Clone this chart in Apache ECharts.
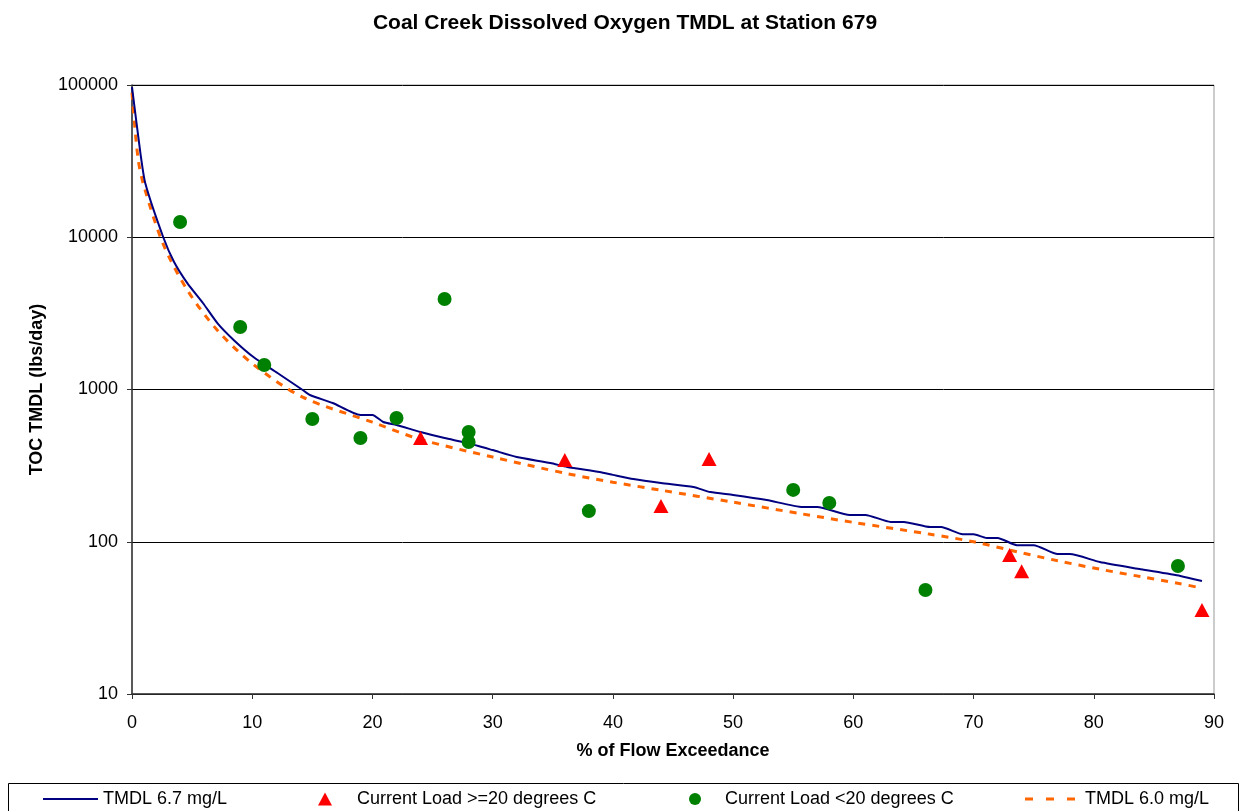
<!DOCTYPE html>
<html>
<head>
<meta charset="utf-8">
<script src="https://cdn.jsdelivr.net/npm/echarts@6/dist/echarts.min.js"></script>
<style>html,body{margin:0;padding:0;background:#fff;}#c{width:1244px;height:811px;}</style>
</head>
<body>
<div id="c"></div>
<script>
// TMDL 6.7 mg/L curve
const tmdl67X = [0, 0.7, 1.1, 2.6, 3.5, 4.6, 5.9, 7.1, 8.5, 10.1, 12.1, 14.2, 14.8, 16.7, 19.0, 20.0, 20.9, 22.0, 24.0, 26.0, 27.9, 30.0, 32.0, 34.8, 36.2, 38.9, 40.0, 41.7, 44.0, 46.7, 48.1, 50.0, 52.8, 55.8, 57.0, 59.7, 61.0, 63.1, 64.2, 66.4, 67.3, 69.1, 70.0, 71.1, 72.0, 73.6, 75.0, 77.0, 78.0, 80.5, 83.9, 87.2, 89.0];
const tmdl67Y = [97000, 35700, 22700, 10000, 6880, 5000, 3700, 2730, 2100, 1635, 1283, 993, 920, 815, 680, 680, 612, 585, 526, 480, 445, 400, 360, 329, 310, 287, 275, 258, 243, 229, 212, 203, 188, 169, 169, 150, 150, 135, 135, 125, 125, 112, 112, 106, 106, 95, 95, 83, 83, 73.6, 66, 59.6, 55.2];
// TMDL 6.0 mg/L curve
const tmdl60X = [0, 0.5, 1.0, 2.6, 4.6, 7.1, 10.1, 14.2, 20.0, 24.0, 30.0, 36.2, 40.0, 44.0, 50.0, 55.8, 60.0, 66.4, 70.0, 73.6, 77.0, 80.5, 83.9, 87.2, 89.0];
const tmdl60Y = [89000, 33000, 21600, 9000, 4500, 2450, 1460, 890, 610, 470, 360, 280, 246, 218, 182, 152, 134, 112, 100, 86, 75, 66, 59, 53, 49.5];
// Current Load >= 20 degrees C
const warmX = [24, 36, 44, 48, 73, 74, 89];
const warmY = [480, 344, 172, 350, 81.8, 64, 35.6];
// Current Load < 20 degrees C
const coolX = [4, 9, 11, 15, 19, 22, 26, 28, 28, 38, 55, 58, 66, 87];
const coolY = [12600, 2574, 1449, 640, 480, 650, 3930, 526, 452, 159, 219, 180, 48.2, 69.3];
const xTicks = [0, 10, 20, 30, 40, 50, 60, 70, 80, 90];

const pair = (xs, ys) => xs.map((x, i) => [x, ys[i]]);
const FONT = '"Liberation Sans", Arial, sans-serif';
const LEG_TEXT = {fontFamily: FONT, fontSize: 18, color: '#000'};

const chart = echarts.init(document.getElementById('c'), null, {renderer: 'canvas'});
chart.setOption({
  animation: false,
  backgroundColor: '#fff',
  title: {
    text: 'Coal Creek Dissolved Oxygen TMDL at Station 679',
    left: 620, top: 8, textAlign: 'center',
    textStyle: {fontFamily: FONT, fontSize: 21, fontWeight: 'bold', color: '#000'}
  },
  grid: {left: 132, right: 30, top: 85, bottom: 117, show: true, borderColor: '#999', borderWidth: 1},
  xAxis: {
    type: 'value', min: xTicks[0], max: xTicks[xTicks.length - 1], interval: 10,
    name: '% of Flow Exceedance', nameLocation: 'middle', nameGap: 48,
    nameTextStyle: {fontFamily: FONT, fontSize: 18, fontWeight: 'bold', color: '#000'},
    axisLine: {lineStyle: {color: '#333', width: 1.5}},
    axisTick: {show: true, length: 5, lineStyle: {color: '#333'}},
    axisLabel: {fontFamily: FONT, fontSize: 18, color: '#000', margin: 20},
    splitLine: {show: false}
  },
  yAxis: {
    type: 'log', logBase: 10, min: 10, max: 100000,
    name: 'TOC TMDL (lbs/day)', nameLocation: 'middle', nameGap: 86,
    nameTextStyle: {fontFamily: FONT, fontSize: 18, fontWeight: 'bold', color: '#000'},
    axisLine: {show: true, lineStyle: {color: '#333', width: 1.5}},
    axisTick: {show: true, length: 5, lineStyle: {color: '#333'}},
    axisLabel: {fontFamily: FONT, fontSize: 18, color: '#000', margin: 14, formatter: v => String(v)},
    splitLine: {show: true, lineStyle: {color: '#000', width: 1}},
    minorTick: {show: false}
  },
  legend: [
    {left: 43, top: 790, padding: 0, itemWidth: 55, itemHeight: 2, itemGap: 0,
     data: [{name: 'TMDL 6.7 mg/L', icon: 'path://M0,0h55v2h-55z'}], textStyle: LEG_TEXT},
    {left: 318, top: 790, padding: 0, itemWidth: 14, itemHeight: 13,
     data: [{name: 'Current Load >=20 degrees C', icon: 'triangle'}],
     textStyle: Object.assign({padding: [0, 0, 0, 20]}, LEG_TEXT)},
    {left: 689, top: 790, padding: 0, itemWidth: 12, itemHeight: 12,
     data: [{name: 'Current Load <20 degrees C', icon: 'circle'}],
     textStyle: Object.assign({padding: [0, 0, 0, 19]}, LEG_TEXT)},
    {left: 1025, top: 790, padding: 0, itemWidth: 50, itemHeight: 3,
     data: [{name: 'TMDL 6.0 mg/L', icon: 'path://M0,0h8v3h-8z M21,0h8v3h-8z M42,0h8v3h-8z'}],
     textStyle: Object.assign({padding: [0, 0, 0, 5]}, LEG_TEXT)}
  ],
  graphic: [
    {type: 'rect', shape: {x: 8.5, y: 783.5, width: 1230, height: 40}, style: {fill: 'none', stroke: '#000', lineWidth: 1}, silent: true, z: -1}
  ],
  series: [
    {name: 'TMDL 6.7 mg/L', type: 'line', data: pair(tmdl67X, tmdl67Y), symbol: 'none', smooth: 0.2,
     lineStyle: {color: '#000080', width: 2}, itemStyle: {color: '#000080', opacity: 1}, z: 3},
    {name: 'Current Load >=20 degrees C', type: 'scatter', data: pair(warmX, warmY), symbol: 'triangle', symbolSize: [15, 14],
     itemStyle: {color: '#FF0000', opacity: 1}, z: 5},
    {name: 'Current Load <20 degrees C', type: 'scatter', data: pair(coolX, coolY), symbol: 'circle', symbolSize: 14,
     itemStyle: {color: '#008000', opacity: 1}, z: 5},
    {name: 'TMDL 6.0 mg/L', type: 'line', data: pair(tmdl60X, tmdl60Y), symbol: 'none', smooth: 0.3,
     lineStyle: {color: '#FF6600', width: 3, type: [7, 7]}, itemStyle: {color: '#FF6600', opacity: 1}, z: 2}
  ]
});
</script>
</body>
</html>
